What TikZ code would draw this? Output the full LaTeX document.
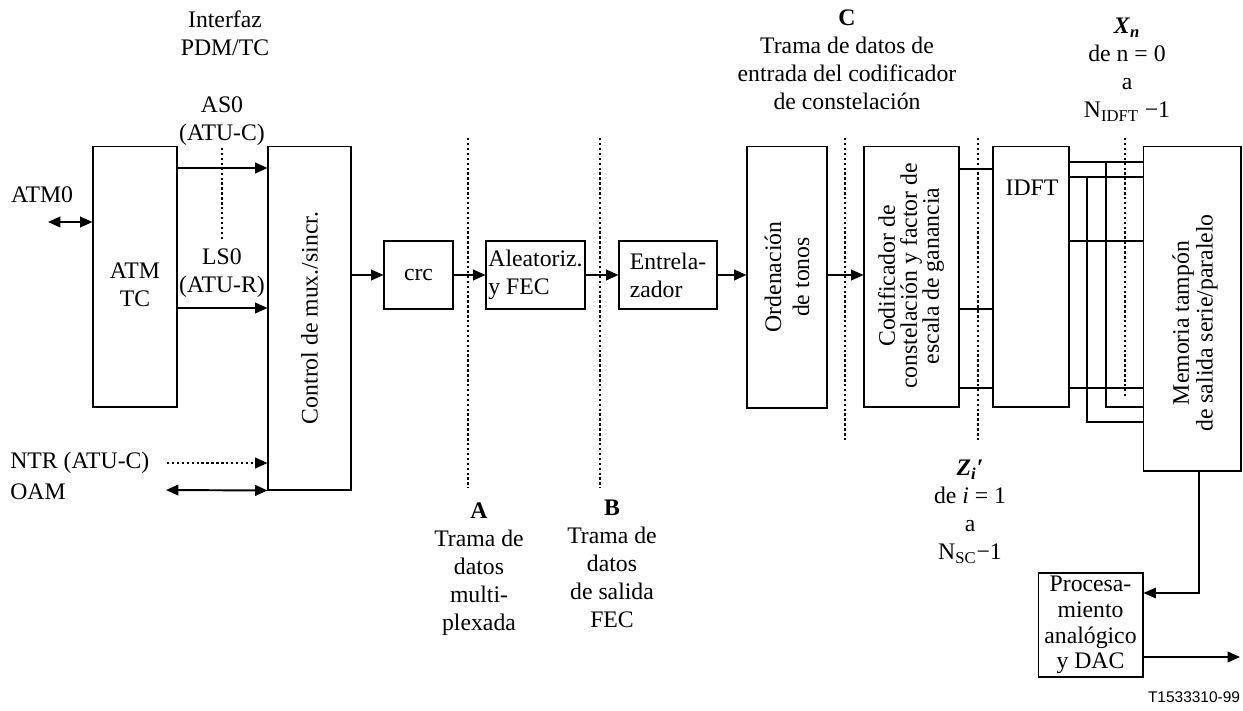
\documentclass[tikz,border=0pt]{standalone}
\usepackage{fontspec}
\setmainfont{Liberation Serif}
\setsansfont{Liberation Sans}
\usetikzlibrary{arrows.meta}

\tikzset{
	blk/.style={draw, line width=0.6pt, inner sep=0pt},
	sig/.style={line width=1.1pt, -{Triangle[length=7pt,width=6pt]}},
	thinsig/.style={line width=0.6pt, -{Triangle[length=7pt,width=6pt]}},
	bisig/.style={line width=1.1pt, {Triangle[length=7pt,width=6pt]}-{Triangle[length=7pt,width=6pt]}},
	bus/.style={line width=1.1pt},
	tap/.style={line width=0.6pt},
	cut/.style={line width=1.1pt, dash pattern=on 1.4pt off 1.4pt},
	lbl/.style={align=center, inner sep=0pt},
}

\begin{document}
\begin{tikzpicture}[x=0.02cm, y=-0.02cm, font=\fontsize{13.5}{15.9}\selectfont]
	\useasboundingbox (0,0) rectangle (1243,710);
	
	% blocks
	\node[blk, minimum width=1.68cm, minimum height=5.22cm] (atm) at (135,276.5) {};
	\node[blk, minimum width=1.66cm, minimum height=6.88cm] (ctrl) at (309.5,318) {};
	\node[blk, minimum width=1.38cm, minimum height=1.36cm] (crc) at (418.5,275) {crc};
	\node[blk, minimum width=1.98cm, minimum height=1.36cm, align=left] (alea) at (535.5,275) {Aleatoriz.\\y FEC};
	\node[blk, minimum width=1.96cm, minimum height=1.36cm, align=left] (entr) at (668,275) {Entrela-\\zador};
	\node[blk, minimum width=1.6cm, minimum height=5.24cm] (orden) at (787,277) {};
	\node[blk, minimum width=1.9cm, minimum height=5.22cm] (cod) at (911.5,276.5) {};
	\node[blk, minimum width=1.52cm, minimum height=5.22cm] (idft) at (1031,276.5) {};
	\node[blk, minimum width=1.96cm, minimum height=6.5cm] (mem) at (1192,308.5) {};
	\node[blk, minimum width=2.1cm, minimum height=2.08cm, align=center, font=\fontsize{13.5}{14.6}\selectfont] (proc) at (1090.5,625) {Procesa-\\miento\\analógico\\y DAC};
	
	% texts in the blocks
	\node[lbl] (atmtx) at (135,285) {ATM\\TC};
	\node[lbl, rotate=90] (ctrltx) at (ctrl.center) {Control de mux./sincr.};
	\node[lbl, rotate=90, font=\fontsize{13.5}{16}\selectfont] (ordentx) at (787,277) {Ordenación\\de tonos};
	\node[lbl, rotate=90, font=\fontsize{13.5}{12.5}\selectfont] (codtx) at (911,276) {Codificador de\\constelación y factor de\\escala de ganancia};
	\node[lbl] (idfttx) at (1032,188) {IDFT};
	\node[lbl, rotate=90, font=\fontsize{13.5}{13.6}\selectfont] (memtx) at (1195,323) {Memoria tampón\\de salida serie/paralelo};
	
	% levels and free ends
	\coordinate (atm0) at (48,222);
	\coordinate (as0) at (0,168);
	\coordinate (ls0) at (0,308);
	\coordinate (ntr) at (167,463);
	\coordinate (oam) at (166,490);
	\coordinate (b1) at (1106,162);
	\coordinate (b2) at (1087,177);
	\coordinate (drop) at (1199,593);
	\coordinate (out) at (1240,657);
	
	% connectors
	\draw[bisig] (atm0) -- (atm.west |- atm0);
	\draw[sig] (atm.east |- as0) -- (ctrl.west |- as0);
	\draw[sig] (atm.east |- ls0) -- (ctrl.west |- ls0);
	\draw[sig, dash pattern=on 1.4pt off 1.4pt] (ntr) -- (ctrl.west |- ntr);
	\draw[bisig] (oam) -- (ctrl.south west);
	\draw[sig] (ctrl.east |- crc) -- (crc.west);
	\draw[sig] (crc) -- (alea);
	\draw[sig] (alea) -- (entr);
	\draw[sig] (entr.east) -- (orden.west |- entr.east);
	\draw[sig] (orden.east |- entr.east) -- (cod.west |- entr.east);
	\foreach \y in {169,309,388}
		\draw[bus] (cod.east |- 0,\y) -- (idft.west |- 0,\y);
	\foreach \y in {162,177,241,388}
		\draw[bus] (idft.east |- 0,\y) -- (mem.west |- 0,\y);
	\draw[tap] (b1) |- (mem.west |- 0,407);
	\draw[tap] (b2) |- (mem.west |- 0,422);
	\draw[thinsig] (mem.south -| drop) -- (drop) -- (proc.east |- drop);
	\draw[sig] (proc.east |- out) -- (out);
	
	% cut lines
	\draw[cut] (222,148) -- (222,240);
	\foreach \x/\b in {468/488, 600/488, 845/440, 978/440, 1125/397}
		\draw[cut] (\x,138) -- (\x,\b);
	
	% labels
	\node[lbl] (intf) at (225,33) {Interfaz\\PDM/TC};
	\node[lbl] (as0l) at (222,121) {AS0\\(ATU-C)};
	\node[lbl] (ls0l) at (222,273) {LS0\\(ATU-R)};
	\node[lbl] (atm0l) at (42,195) {ATM0};
	\node[lbl, anchor=west] (ntrl) at (10,463) {NTR (ATU-C)};
	\node[lbl, anchor=west] (oaml) at (10,492) {OAM};
	\node[lbl] (la) at (479,569) {\textbf{A}\\Trama de\\datos\\multi-\\plexada};
	\node[lbl] (lb) at (612,564) {\textbf{B}\\Trama de\\datos\\de salida\\FEC};
	\node[lbl] (lc) at (847,60) {\textbf{C}\\Trama de datos de\\entrada del codificador\\de constelación};
	\node[lbl] (lx) at (1127,70) {\textbf{\textit{X}}\textsubscript{\textbf{\textit{n}}}\\de n = 0\\a\\N\textsubscript{IDFT} −1};
	\node[lbl] (lz) at (970,512) {\textbf{\textit{Z}}\textsubscript{\textbf{\textit{i}}}\textbf{\textit{′}}\\de \textit{i} = 1\\a\\N\textsubscript{SC}−1};
	\node[lbl, font=\sffamily\fontsize{8.8}{10}\selectfont] (ref) at (1194,697) {T1533310-99};
\end{tikzpicture}
\end{document}
